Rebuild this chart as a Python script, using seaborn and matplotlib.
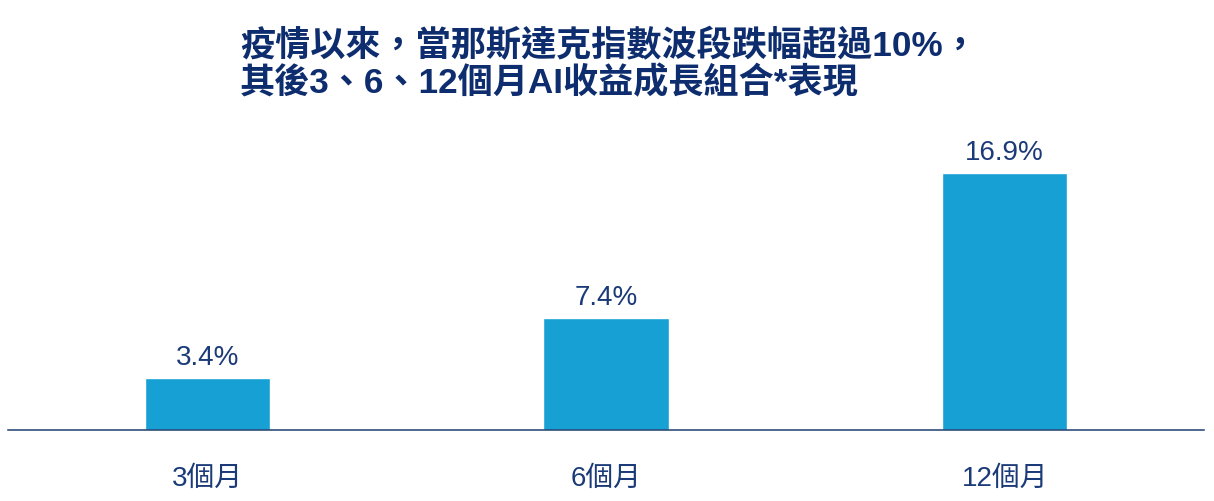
import matplotlib
matplotlib.use("Agg")
import matplotlib.pyplot as plt
import seaborn as sns
import pandas as pd

categories = ["3個月", "6個月", "12個月"]
values = [3.4, 7.4, 16.9]
value_labels = ["3.4%", "7.4%", "16.9%"]
title_line1 = "疫情以來，當那斯達克指數波段跌幅超過10%，"
title_line2 = "其後3、6、12個月AI收益成長組合*表現"

sns.set_theme(style="white")
plt.rcParams["font.family"] = ["Liberation Sans", "Noto Sans CJK TC", "DejaVu Sans"]

NAVY = "#0E2D6E"
BAR = "#16A0D4"

df = pd.DataFrame({"cat": categories, "val": values})

fig = plt.figure(figsize=(12.14, 5.01), dpi=100)
ax = fig.add_axes([8 / 1214, 71 / 501, 1196 / 1214, 310 / 501])
sns.barplot(data=df, x="cat", y="val", color=BAR, width=0.314, saturation=1, ax=ax)

ax.set_xlim(-0.5, 2.5)
ax.set_ylim(0, 310 / 15.2)
ax.set_xlabel("")
ax.set_ylabel("")
ax.set_yticks([])
for s in ["top", "left", "right"]:
    ax.spines[s].set_visible(False)
ax.spines["bottom"].set_color("#1F3F6F")
ax.spines["bottom"].set_linewidth(1.1)
ax.tick_params(axis="x", length=0, pad=26, labelsize=20, labelcolor="#1B3A78")

ax.bar_label(ax.containers[0], labels=value_labels, padding=5,
             fontsize=20, color="#1B3A78")

fig.text(240 / 1214, 1 - 46 / 501, title_line1, fontsize=25.3, fontweight="bold",
         color=NAVY, ha="left", va="center")
fig.text(240 / 1214, 1 - 83 / 501, title_line2, fontsize=25.3, fontweight="bold",
         color=NAVY, ha="left", va="center")

fig.savefig("out.png", dpi=100)
